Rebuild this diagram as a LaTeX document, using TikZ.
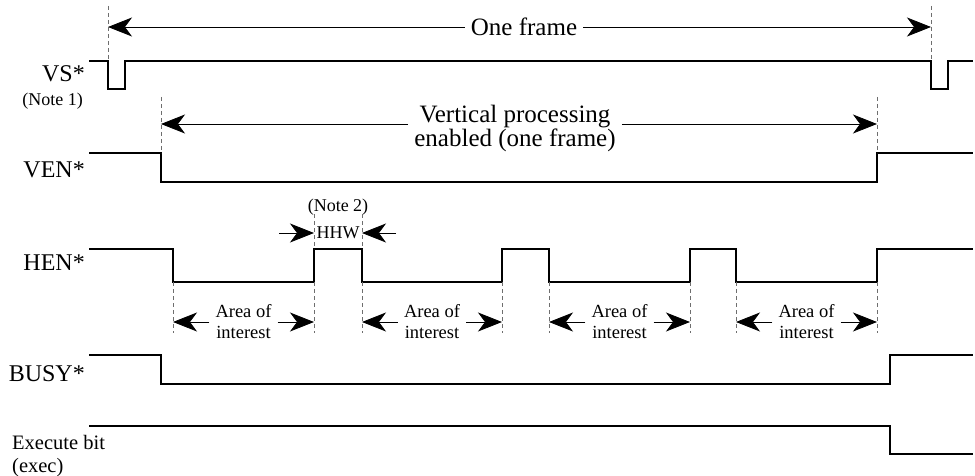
\documentclass[tikz,border=0pt]{standalone}
\usepackage{fontspec}
\setmainfont{Liberation Serif}
\usetikzlibrary{arrows.meta,positioning}
\definecolor{MarkGray}{RGB}{110,110,110}
\tikzset{
  wave/.style={line width=1.7pt,line join=miter},
  guide/.style={draw=MarkGray,line width=0.6pt,dash pattern=on 4pt off 3pt},
  span/.style={-{Stealth[length=24pt,width=19pt,inset=7pt]},line width=0.8pt},
  siglabel/.style={anchor=base east,inner sep=0pt,font=\fontsize{24}{24}\selectfont},
  notelabel/.style={inner sep=0pt,font=\fontsize{18}{20}\selectfont},
  execlabel/.style={anchor=base west,inner sep=0pt,font=\fontsize{20.5}{20}\selectfont},
  bigtext/.style={align=center,inner sep=6pt,font=\fontsize{25}{24}\selectfont},
  areatext/.style={align=center,inner xsep=6pt,font=\fontsize{18.5}{21}\selectfont}
}

\begin{document}
\begin{tikzpicture}[x=1pt,y=-1pt]
  \useasboundingbox (0,0) rectangle (975,476);
  % signal names
  \node[siglabel] (vs) at (85,82) {VS*};
  \node[notelabel,anchor=base east] (note1) at (83,106) {(Note 1)};
  \node[siglabel] (ven) at (85,178) {VEN*};
  \node[siglabel] (hen) at (85,270) {HEN*};
  \node[siglabel] (busy) at (85,381) {BUSY*};
  \node[execlabel] (exec) at (12,449) {Execute bit};
  \node[execlabel] (execb) at (12,472) {(exec)};

  % waveforms
  \draw[wave] (89,61) -| (108,89) -| (125,61) -| (931,89) -| (948,61) -- (973,61);
  \draw[wave] (89,153) -| (161,182) -| (877,153) -- (973,153);
  \draw[wave] (89,249) -| (173,282) -| (314,249) -| (362,282) -| (502,249)
    -| (549,282) -| (690,249) -| (736,282) -| (877,249) -- (973,249);
  \draw[wave] (89,355) -| (161,384) -| (890,355) -- (973,355);
  \draw[wave] (89,426) -| (890,454) -- (973,454);

  % one frame
  \node[bigtext] (frame) at (524,27) {One frame};
  \coordinate (frameL) at (108,27);
  \coordinate (frameR) at (931,27);
  \draw[span] (frame) -- (frameL);
  \draw[span] (frame) -- (frameR);
  \draw[guide] (108,6) -- (108,61);
  \draw[guide] (931,6) -- (931,61);

  % vertical processing
  \node[bigtext] (vproc) at (515,128) {Vertical processing\\enabled (one frame)};
  \coordinate (vprocL) at (161,124);
  \coordinate (vprocR) at (877,124);
  \draw[span] (vproc.west |- vprocL) -- (vprocL);
  \draw[span] (vproc.east |- vprocR) -- (vprocR);
  \draw[guide] (161,97) -- (161,153);
  \draw[guide] (877,97) -- (877,153);

  % pulse width
  \node[notelabel] (note2) at (338,207) {(Note 2)};
  \node[notelabel] (hhw) at (338,233) {HHW};
  \coordinate (hhwA) at (279,233);
  \coordinate (hhwB) at (314,233);
  \coordinate (hhwC) at (396,233);
  \coordinate (hhwD) at (362,233);
  \draw[span] (hhwA) -- (hhwB);
  \draw[span] (hhwC) -- (hhwD);
  \draw[guide] (314,214) -- (314,249);
  \draw[guide] (362,214) -- (362,249);

  % areas of interest
  \coordinate (h1) at (173,282);
  \coordinate (h2) at (314,282);
  \coordinate (h3) at (362,282);
  \coordinate (h4) at (502,282);
  \coordinate (h5) at (549,282);
  \coordinate (h6) at (690,282);
  \coordinate (h7) at (736,282);
  \coordinate (h8) at (877,282);
  \foreach \h in {h1,h2,h3,h4,h5,h6,h7,h8}
    \draw[guide] (\h) -- ++(0,51);
  \node[areatext] (area1) at (243.5,322) {Area of\\interest};
  \node[areatext] (area2) at (432,322) {Area of\\interest};
  \node[areatext] (area3) at (619.5,322) {Area of\\interest};
  \node[areatext] (area4) at (806.5,322) {Area of\\interest};
  \draw[span] (area1) -- (area1 -| h1);
  \draw[span] (area1) -- (area1 -| h2);
  \draw[span] (area2) -- (area2 -| h3);
  \draw[span] (area2) -- (area2 -| h4);
  \draw[span] (area3) -- (area3 -| h5);
  \draw[span] (area3) -- (area3 -| h6);
  \draw[span] (area4) -- (area4 -| h7);
  \draw[span] (area4) -- (area4 -| h8);
\end{tikzpicture}
\end{document}
